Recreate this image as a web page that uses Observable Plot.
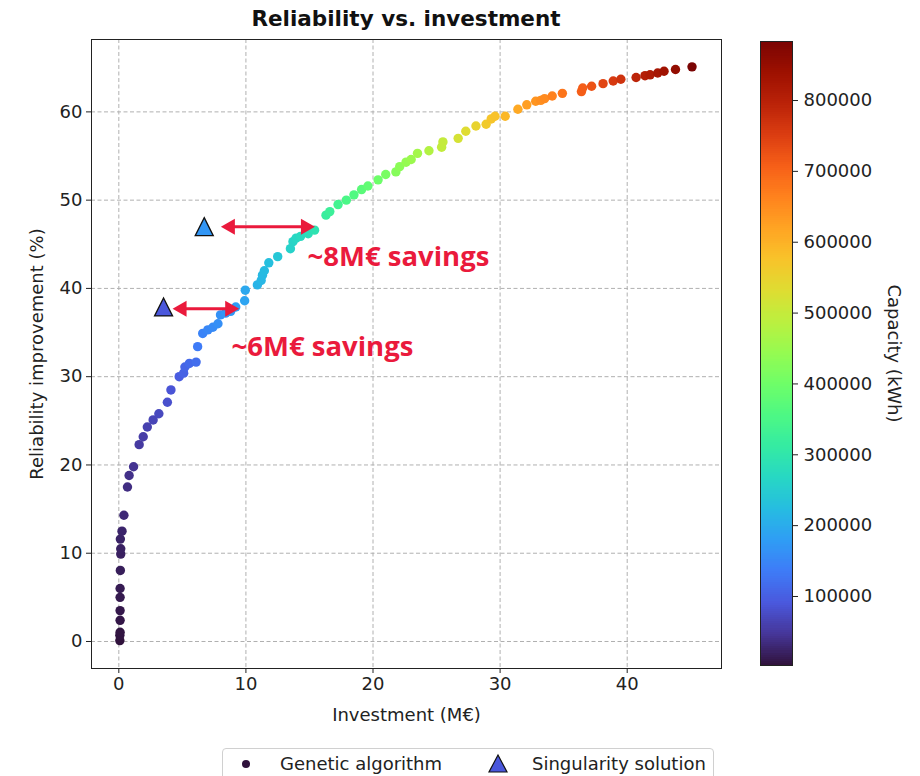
<!DOCTYPE html>
<html><head><meta charset="utf-8">
<script src="https://cdn.jsdelivr.net/npm/d3@7"></script>
<script src="https://cdn.jsdelivr.net/npm/@observablehq/plot@0.6"></script>
<style>
body{margin:0;background:#fff;font-family:"DejaVu Sans",sans-serif;}
#wrap{position:relative;width:920px;height:776px;overflow:hidden;background:#fff;}
#wrap > *{position:absolute;}
#title{left:91px;width:630px;top:8px;text-align:center;font:bold 21.5px/21px "DejaVu Sans";color:#111;z-index:5;}
#legend{left:222px;top:748px;width:490px;height:40px;border:1px solid #d0d0d0;border-radius:4px;background:#fff;z-index:5;}
</style></head><body><div id="wrap"></div>
<script>
// Genetic algorithm solutions
const gaInvestment = [0.08,0.08,0.1,0.1,0.1,0.1,0.1,0.12,0.15,0.15,
  0.12,0.25,0.4,0.68,0.81,1.16,1.6,1.92,2.24,2.7,
  3.15,3.82,4.1,4.75,5.1,5.2,5.55,6.08,6.2,6.6,
  7.0,7.4,7.8,8.0,8.4,8.8,9.2,9.9,9.95,10.9,
  11.2,11.3,11.45,11.8,12.5,13.5,13.7,13.95,14.3,14.9,
  15.4,16.3,16.6,17.25,17.9,18.5,19.1,19.6,20.4,21.0,
  21.8,22.1,22.6,23.0,23.5,24.4,25.4,25.5,26.7,27.3,
  28.1,28.9,29.3,29.6,30.4,31.4,32.1,32.8,33.2,33.5,
  34.1,34.9,36.4,36.5,37.2,38.1,38.9,39.5,40.7,41.4,
  41.8,42.4,42.9,43.8,45.1];
const gaReliability = [0.1,0.7,1.05,2.4,3.5,5.0,6.0,8.05,9.9,10.5,
  11.6,12.5,14.3,17.5,18.8,19.8,22.3,23.2,24.3,25.1,
  25.8,27.1,28.5,30.0,30.4,31.1,31.5,31.65,33.4,34.9,
  35.3,35.6,36.0,37.0,37.2,37.4,37.9,38.6,39.8,40.4,
  40.9,41.5,42.0,42.9,43.6,44.5,45.3,45.7,45.9,46.2,
  46.6,48.3,48.7,49.5,50.0,50.6,51.2,51.6,52.3,52.9,
  53.2,53.8,54.3,54.6,55.3,55.6,56.0,56.6,57.0,57.8,
  58.4,58.6,59.2,59.5,59.5,60.3,60.8,61.2,61.3,61.5,
  61.8,62.1,62.3,62.7,62.9,63.2,63.5,63.7,63.9,64.1,
  64.2,64.4,64.6,64.8,65.1];
const gaCapacity = [3000,5000,6000,8000,10000,12000,14000,17000,20000,21000,
  23000,25000,30000,36000,39000,43000,52000,56000,61000,66000,
  71000,80000,86000,96000,103000,106000,112000,118000,135000,145000,
  150000,155000,160000,163000,168000,172000,178000,188000,195000,210000,
  215000,218000,222000,228000,240000,258000,262000,267000,273000,283000,
  292000,318000,325000,337000,350000,360000,372000,382000,398000,410000,
  425000,432000,442000,450000,460000,477000,496000,498000,520000,532000,
  548000,563000,571000,577000,592000,612000,625000,639000,646000,652000,
  664000,680000,708000,710000,724000,741000,757000,768000,792000,805000,
  813000,825000,835000,852000,883000];

// Singularity solutions
const singInvestment = [3.52, 6.72];
const singReliability = [37.9, 47.0];
const singCapacity = [90000, 170000];

// Savings annotations
const savingsLabels = ["~6M€ savings", "~8M€ savings"];
const arrowFrom = [4.23, 8.03];
const arrowTo = [9.47, 15.43];
const arrowY = [37.7, 47.0];
const labelX = [8.87, 14.85];
const labelY = [33.3, 43.5];

// Ticks and labels
const xTicks = [0, 10, 20, 30, 40];
const yTicks = [0, 10, 20, 30, 40, 50, 60];
const capTicks = [100000, 200000, 300000, 400000, 500000, 600000, 700000, 800000];
const capDomain = [2600, 883300];
const titleText = "Reliability vs. investment";
const xLabel = "Investment (M€)";
const yLabel = "Reliability improvement (%)";
const cLabel = "Capacity (kWh)";
const legendLabels = ["Genetic algorithm", "Singularity solution"];

// turbo colormap with matplotlib end colours
const turboStops = ["#30123b"].concat(d3.range(1, 20).map(i => d3.interpolateTurbo(i / 20)), ["#7a0403"]);
const turboMpl = d3.piecewise(d3.interpolateRgb, turboStops);
const colorScale = {type: "linear", domain: capDomain, interpolate: turboMpl};

const ga = gaInvestment.map((x, i) => ({x, y: gaReliability[i], c: gaCapacity[i]}));
const sing = singInvestment.map((x, i) => ({x, y: singReliability[i], c: singCapacity[i]}));
const arrows = arrowFrom.map((x1, i) => ({x1, x2: arrowTo[i], y: arrowY[i]}));
const notes = savingsLabels.map((t, i) => ({t, x: labelX[i], y: labelY[i]}));

const triUp = {draw(ctx, size) { const h = Math.sqrt(size / Math.PI); ctx.moveTo(0, -h); ctx.lineTo(h, h); ctx.lineTo(-h, h); ctx.closePath(); }};
const headRight = {draw(ctx, size) { const k = Math.sqrt(size / Math.PI) / 8; ctx.moveTo(0, 0); ctx.lineTo(-14 * k, -8 * k); ctx.lineTo(-14 * k, 8 * k); ctx.closePath(); }};
const headLeft = {draw(ctx, size) { const k = Math.sqrt(size / Math.PI) / 8; ctx.moveTo(0, 0); ctx.lineTo(14 * k, -8 * k); ctx.lineTo(14 * k, 8 * k); ctx.closePath(); }};

const RED = "#ea1a3c";
const baseStyle = {fontFamily: "DejaVu Sans", fontSize: "18px", color: "#222", background: "white", overflow: "visible"};
const gridOpts = {stroke: "#b0b0b0", strokeOpacity: 1, strokeDasharray: "4,2.5", strokeWidth: 1};

const main = Plot.plot({
  width: 740, height: 730,
  marginLeft: 91, marginRight: 19, marginTop: 39, marginBottom: 62,
  x: {domain: [-2.15, 47.42]},
  y: {domain: [-3.06, 68.2]},
  color: colorScale,
  style: baseStyle,
  marks: [
    Plot.gridX(xTicks, gridOpts),
    Plot.gridY(yTicks, gridOpts),
    Plot.axisX(xTicks, {tickSize: 5, tickPadding: 4, label: null, stroke: "#222"}),
    Plot.axisY(yTicks, {tickSize: 5, tickPadding: 4, label: null, stroke: "#222"}),
    Plot.dot(ga, {x: "x", y: "y", fill: "c", r: 4.7}),
    Plot.ruleY(arrows, {x1: "x1", x2: "x2", y: "y", stroke: RED, strokeWidth: 3, insetLeft: 8, insetRight: 8}),
    Plot.dot(arrows, {x: "x2", y: "y", symbol: headRight, r: 8, fill: RED}),
    Plot.dot(arrows, {x: "x1", y: "y", symbol: headLeft, r: 8, fill: RED}),
    Plot.dot(sing, {x: "x", y: "y", fill: "c", symbol: triUp, r: 9, stroke: "#111", strokeWidth: 1.3}),
    Plot.text(notes, {x: "x", y: "y", text: "t", textAnchor: "start", fill: RED, fontWeight: "bold", fontFamily: "Open Sans", fontSize: 27.5}),
    Plot.text([xLabel], {text: d => d, frameAnchor: "bottom", dy: 52, textAnchor: "middle"}),
    Plot.text([yLabel], {text: d => d, frameAnchor: "left", dx: -54, rotate: -90, textAnchor: "middle"}),
    Plot.frame({stroke: "#222"})
  ]
});
main.style.left = "0px"; main.style.top = "0px";

const nRamp = 300;
const ramp = d3.range(nRamp).map(i => {
  const a = capDomain[0] + (capDomain[1] - capDomain[0]) * i / nRamp;
  const b = capDomain[0] + (capDomain[1] - capDomain[0]) * (i + 1) / nRamp;
  return {y1: a, y2: b, v: (a + b) / 2};
});
const cbar = Plot.plot({
  width: 180, height: 705,
  marginLeft: 20, marginRight: 128, marginTop: 41, marginBottom: 40,
  x: {domain: [0, 1], axis: null},
  y: {domain: capDomain, axis: null},
  color: colorScale,
  style: baseStyle,
  marks: [
    Plot.rect(ramp, {x1: d => 0, x2: d => 1, y1: "y1", y2: "y2", fill: "v", shapeRendering: "crispEdges"}),
    Plot.axisY(capTicks, {anchor: "right", tickSize: 5, tickPadding: 6, tickFormat: d3.format("d"), label: null, stroke: "#222"}),
    Plot.text([cLabel], {text: d => d, frameAnchor: "right", dx: 101, rotate: 90, textAnchor: "middle"}),
    Plot.frame({stroke: "#222"})
  ]
});
cbar.style.left = "740px"; cbar.style.top = "0px";

const wrap = document.getElementById("wrap");
wrap.appendChild(main);
wrap.appendChild(cbar);
const title = document.createElement("div");
title.id = "title";
title.textContent = titleText;
wrap.appendChild(title);

// legend
const cs = main.scale("color");
const leg = document.createElement("div");
leg.id = "legend";
const lsvg = d3.create("svg").attr("width", 490).attr("height", 40).style("font", "18px 'DejaVu Sans'");
lsvg.append("circle").attr("cx", 23).attr("cy", 15).attr("r", 4).attr("fill", cs.apply(gaCapacity[0]));
lsvg.append("text").attr("x", 57).attr("y", 15).attr("dy", "0.35em").attr("fill", "#222").text(legendLabels[0]);
lsvg.append("path").attr("d", "M275,6L284,23L266,23Z").attr("fill", cs.apply(singCapacity[0])).attr("stroke", "#111").attr("stroke-width", 1.2);
lsvg.append("text").attr("x", 309).attr("y", 15).attr("dy", "0.35em").attr("fill", "#222").text(legendLabels[1]);
leg.appendChild(lsvg.node());
wrap.appendChild(leg);
</script></body></html>
